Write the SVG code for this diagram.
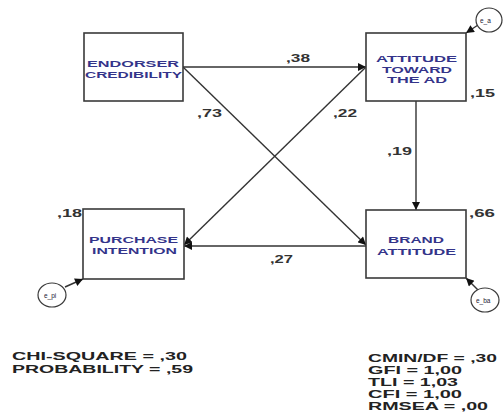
<svg xmlns="http://www.w3.org/2000/svg" width="503" height="419" viewBox="0 0 503 419">
<defs>
<style>
.box{fill:#fff;stroke:#3a3a3a;stroke-width:1.6}
.err{fill:#fff;stroke:#3a3a3a;stroke-width:1.2}
.ln{stroke:#333;stroke-width:1.4;fill:none}
.nt{font-family:"Liberation Sans",Arial,sans-serif;font-weight:bold;font-size:9.5px;fill:#34348a}
.num{font-family:"Liberation Sans",Arial,sans-serif;font-weight:bold;font-size:11px;fill:#333}
.st{font-family:"Liberation Sans",Arial,sans-serif;font-weight:bold;font-size:10.5px;fill:#222}
.et{font-family:"Liberation Sans",Arial,sans-serif;font-size:6.5px;fill:#223}
</style>
<marker id="ah" viewBox="0 0 10 10" refX="10" refY="5" markerWidth="9" markerHeight="8" markerUnits="userSpaceOnUse" orient="auto">
<path d="M0,0 L10,5 L0,10 Z" fill="#111"/>
</marker>
</defs>
<rect width="503" height="419" fill="#fff"/>
<g id="connectors">
<line class="ln" x1="183" y1="67" x2="366" y2="67" marker-end="url(#ah)"/>
<line class="ln" x1="183" y1="67" x2="366" y2="245" marker-end="url(#ah)"/>
<line class="ln" x1="366" y1="67" x2="184" y2="245" marker-end="url(#ah)"/>
<line class="ln" x1="416" y1="101" x2="416" y2="210" marker-end="url(#ah)"/>
<line class="ln" x1="366" y1="246" x2="184" y2="246" marker-end="url(#ah)"/>
<line class="ln" x1="478" y1="25" x2="466" y2="33" marker-end="url(#ah)"/>
<line class="ln" x1="65" y1="287" x2="83" y2="279" marker-end="url(#ah)"/>
<line class="ln" x1="478" y1="290" x2="466" y2="278" marker-end="url(#ah)"/>
<text class="num" x="286" y="62" textLength="24" lengthAdjust="spacingAndGlyphs">,38</text>
<text class="num" x="197" y="117" textLength="25" lengthAdjust="spacingAndGlyphs">,73</text>
<text class="num" x="333" y="117" textLength="24" lengthAdjust="spacingAndGlyphs">,22</text>
<text class="num" x="387" y="155" textLength="25" lengthAdjust="spacingAndGlyphs">,19</text>
<text class="num" x="270" y="263" textLength="23" lengthAdjust="spacingAndGlyphs">,27</text>
</g>
<g id="endorser">
<rect class="box" x="84" y="33" width="99" height="68"/>
<text class="nt" x="87" y="67" textLength="92" lengthAdjust="spacingAndGlyphs">ENDORSER</text>
<text class="nt" x="85" y="78" textLength="97" lengthAdjust="spacingAndGlyphs">CREDIBILITY</text>
</g>
<g id="attitude-ad">
<rect class="box" x="366" y="33" width="100" height="68"/>
<text class="nt" x="376" y="62" textLength="81" lengthAdjust="spacingAndGlyphs">ATTITUDE</text>
<text class="nt" x="382" y="72.5" textLength="70" lengthAdjust="spacingAndGlyphs">TOWARD</text>
<text class="nt" x="387" y="83" textLength="60" lengthAdjust="spacingAndGlyphs">THE AD</text>
<text class="num" x="470" y="97" textLength="25" lengthAdjust="spacingAndGlyphs">,15</text>
</g>
<g id="purchase">
<rect class="box" x="83" y="209" width="101" height="70"/>
<text class="nt" x="89" y="243" textLength="89" lengthAdjust="spacingAndGlyphs">PURCHASE</text>
<text class="nt" x="92" y="254" textLength="85" lengthAdjust="spacingAndGlyphs">INTENTION</text>
<text class="num" x="57" y="217" textLength="25" lengthAdjust="spacingAndGlyphs">,18</text>
</g>
<g id="brand">
<rect class="box" x="366" y="210" width="100" height="68"/>
<text class="nt" x="388" y="243" textLength="56" lengthAdjust="spacingAndGlyphs">BRAND</text>
<text class="nt" x="377" y="255" textLength="79" lengthAdjust="spacingAndGlyphs">ATTITUDE</text>
<text class="num" x="469" y="217" textLength="26" lengthAdjust="spacingAndGlyphs">,66</text>
</g>
<g id="e_a">
<ellipse class="err" cx="489" cy="20" rx="13" ry="12"/>
<text class="et" x="480" y="23">e_a</text>
</g>
<g id="e_pi">
<ellipse class="err" cx="52" cy="295" rx="14" ry="12"/>
<text class="et" x="44" y="298">e_pi</text>
</g>
<g id="e_ba">
<ellipse class="err" cx="485" cy="300" rx="14" ry="12"/>
<text class="et" x="476" y="303">e_ba</text>
</g>
<g id="stats">
<text class="st" x="12" y="360" textLength="175" lengthAdjust="spacingAndGlyphs">CHI-SQUARE = ,30</text>
<text class="st" x="12" y="373" textLength="181" lengthAdjust="spacingAndGlyphs">PROBABILITY = ,59</text>
<text class="st" x="368" y="362" textLength="129" lengthAdjust="spacingAndGlyphs">CMIN/DF = ,30</text>
<text class="st" x="368" y="374" textLength="94" lengthAdjust="spacingAndGlyphs">GFI = 1,00</text>
<text class="st" x="368" y="386" textLength="90" lengthAdjust="spacingAndGlyphs">TLI = 1,03</text>
<text class="st" x="368" y="398" textLength="94" lengthAdjust="spacingAndGlyphs">CFI = 1,00</text>
<text class="st" x="368" y="410" textLength="120" lengthAdjust="spacingAndGlyphs">RMSEA = ,00</text>
</g>
</svg>
